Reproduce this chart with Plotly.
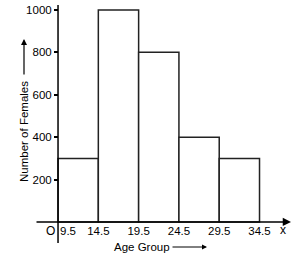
import plotly.graph_objects as go

# Data
class_lower = [9.5, 14.5, 19.5, 24.5, 29.5]
class_upper = [14.5, 19.5, 24.5, 29.5, 34.5]
females = [300, 1000, 800, 400, 300]
x_tick_values = [9.5, 14.5, 19.5, 24.5, 29.5, 34.5]
x_tick_labels = ["9.5", "14.5", "19.5", "24.5", "29.5", "34.5"]
y_tick_values = [200, 400, 600, 800, 1000]
y_tick_labels = ["200", "400", "600", "800", "1000"]

W, H = 302, 255
FONT = "Liberation Sans, Arial, sans-serif"

# axis ranges (whole figure is the plot area)
XR = [2.3, 39.77]
YR = [-155.7, 1047]

def px_x(p):
    return XR[0] + (XR[1] - XR[0]) * p / W

def px_y(p):
    return YR[1] - (YR[1] - YR[0]) * p / H

mids = [(a + b) / 2 for a, b in zip(class_lower, class_upper)]
widths = [b - a for a, b in zip(class_lower, class_upper)]

fig = go.Figure()
fig.add_trace(go.Bar(
    x=mids, y=females, width=widths,
    marker=dict(color="white", line=dict(color="#222", width=1.5)),
    hoverinfo="skip",
))
# helper (invisible) trace so the second x axis (first tick label, shifted off the y axis) is drawn
fig.add_trace(go.Scatter(x=[x_tick_values[0]], y=[0], xaxis="x2", yaxis="y",
                         mode="markers", marker=dict(opacity=0), hoverinfo="skip"))

# y-axis line
fig.add_shape(type="line", xref="x", yref="y",
              x0=class_lower[0], x1=class_lower[0], y0=px_y(243), y1=px_y(5),
              line=dict(color="black", width=1.5))

C = dict(xanchor="center", yanchor="middle")
annotations = [
    # x-axis line with arrow
    dict(x=px_x(291), y=0, ax=px_x(35), ay=0, xref="x", yref="y", axref="x", ayref="y",
         text="", showarrow=True, arrowhead=2, arrowsize=1.1, arrowwidth=1.5, arrowcolor="black"),
    dict(x=283 / W, y=1 - 230 / H, xref="paper", yref="paper", text="x", showarrow=False,
         font=dict(family=FONT, size=12, color="black"), **C),
    dict(x=50 / W, y=1 - 231 / H, xref="paper", yref="paper", text="O", showarrow=False,
         font=dict(family=FONT, size=12, color="black"), **C),
    # x title
    dict(x=112 / W, y=1 - 247 / H, xref="paper", yref="paper", text="Age Group", showarrow=False,
         xanchor="left", yanchor="middle", font=dict(family=FONT, size=11.5, color="black")),
    dict(x=207 / W, y=1 - 247 / H, ax=-36, ay=0, xref="paper", yref="paper",
         text="", showarrow=True, arrowhead=2, arrowsize=1, arrowwidth=1, arrowcolor="black"),
    # y title
    dict(x=24 / W, y=1 - 132 / H, xref="paper", yref="paper", text="Number of Females",
         textangle=-90, showarrow=False, font=dict(family=FONT, size=11.5, color="black"), **C),
    dict(x=24 / W, y=1 - 39 / H, ax=0, ay=37, xref="paper", yref="paper",
         text="", showarrow=True, arrowhead=2, arrowsize=1, arrowwidth=1.2, arrowcolor="black"),
]

xcommon = dict(range=XR, showgrid=False, zeroline=False, showline=False, automargin=False,
               ticks="", anchor="free", position=(H - 222) / H,
               tickfont=dict(family=FONT, size=11.5, color="black"))

fig.update_layout(
    width=W, height=H,
    margin=dict(l=0, r=0, t=0, b=0, pad=0, autoexpand=False),
    paper_bgcolor="white", plot_bgcolor="white",
    showlegend=False,
    annotations=annotations,
    xaxis=dict(tickvals=x_tick_values[1:], ticktext=x_tick_labels[1:], **xcommon),
    xaxis2=dict(tickvals=x_tick_values[:1], ticktext=x_tick_labels[:1], overlaying="x",
                ticklabelshift=10, side="bottom", **xcommon),
    yaxis=dict(range=YR, showgrid=False, zeroline=False, showline=False, automargin=False,
               tickvals=y_tick_values, ticktext=y_tick_labels, ticks="outside",
               ticklen=4, tickwidth=1.5, tickcolor="black",
               anchor="free", position=58 / W,
               tickfont=dict(family=FONT, size=11.5, color="black")),
    font=dict(family=FONT, color="black"),
)

fig.write_html("out.html")
